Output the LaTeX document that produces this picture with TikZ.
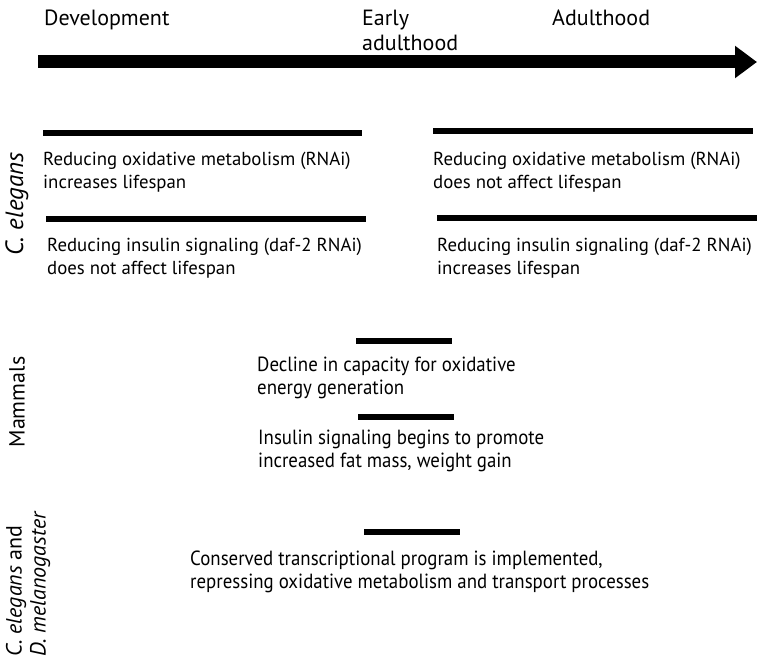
\documentclass[tikz,border=0pt]{standalone}
\usepackage{fontspec}
\setmainfont{PT Sans}
\newfontfamily\condfont[FakeStretch=0.92]{PT Sans}
\usetikzlibrary{arrows.meta}

\begin{document}
\begin{tikzpicture}[x=1pt,y=-1pt,
    bar/.style={line width=6pt},
    head/.style={anchor=base west,align=left,inner sep=0pt,font=\fontsize{22}{25}\selectfont},
    txt/.style={anchor=base west,align=left,inner sep=0pt,font=\fontsize{18.8}{23}\selectfont},
    ctxt/.style={anchor=base west,align=left,inner sep=0pt,font=\condfont\fontsize{20.5}{23}\selectfont},
    side/.style={rotate=90,align=left,inner sep=0pt,font=\fontsize{22}{24}\selectfont}]
    \useasboundingbox (0,0) rectangle (757,666);

    % Time line
    \coordinate (tstart) at (38,62);
    \coordinate (tend) at (757,62);
    \draw[line width=13pt,-{Triangle[length=22pt,width=31pt]}] (tstart) -- (tend);
    \node[head] (dev) at (44,26) {Development};
    \node[head] (early) at (362,51) {Early\\adulthood};
    \node[head] (adult) at (552,26) {Adulthood};

    % C. elegans
    \node[side,font=\fontsize{25}{27}\selectfont] (cel) at (17,204) {\textit{C. elegans}};
    \draw[bar] (43,133) -- (362,133);
    \node[txt] (oxdev) at (43,188) {Reducing oxidative metabolism (RNAi)\\increases lifespan};
    \draw[bar] (46,219) -- (366,219);
    \node[txt] (insdev) at (47,274) {Reducing insulin signaling (daf-2 RNAi)\\does not affect lifespan};
    \draw[bar] (433,131) -- (753,131);
    \node[txt] (oxad) at (433,188) {Reducing oxidative metabolism (RNAi)\\does not affect lifespan};
    \draw[bar] (437,218) -- (757,218);
    \node[txt] (insad) at (437,274) {Reducing insulin signaling (daf-2 RNAi)\\increases lifespan};

    % Mammals
    \node[side] (mam) at (17,402) {Mammals};
    \draw[bar] (356,341) -- (452,341);
    \node[ctxt] (decl) at (257,394) {Decline in capacity for oxidative\\energy generation};
    \draw[bar] (358,417) -- (454,417);
    \node[ctxt] (insm) at (258,467) {Insulin signaling begins to promote\\increased fat mass, weight gain};

    % C. elegans and D. melanogaster
    \node[side,anchor=west] (both) at (28,657) {\textit{C. elegans} and\\\textit{D. melanogaster}};
    \draw[bar] (364,532) -- (460,532);
    \node[ctxt] (prog) at (190,588) {Conserved transcriptional program is implemented,\\repressing oxidative metabolism and transport processes};
\end{tikzpicture}
\end{document}
